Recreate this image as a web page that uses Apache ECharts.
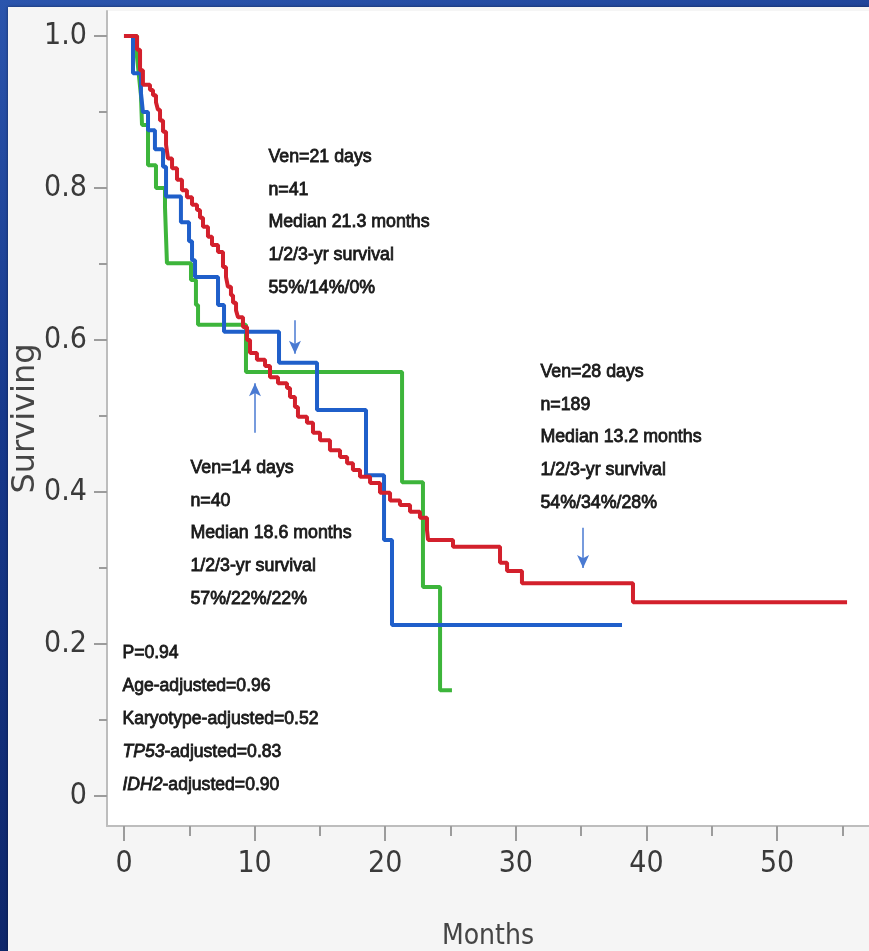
<!DOCTYPE html>
<html><head><meta charset="utf-8">
<script src="https://cdn.jsdelivr.net/npm/echarts@6/dist/echarts.min.js"></script>
<style>
html,body{margin:0;padding:0;width:869px;height:951px;overflow:hidden;background:linear-gradient(165deg,#2b55ad 0%,#17398c 35%,#0b1f5c 100%);}
#panel{position:absolute;left:8px;top:7px;width:861px;height:944px;background:#f5f5f5;box-shadow:0 0 3px rgba(0,0,0,0.45);}
#chart{position:absolute;left:0;top:0;width:869px;height:951px;}
</style></head><body><div id="panel"></div><div id="chart"></div>
<script>
// ---- data ----
const redTimes = [0,1.00,1.23,1.45,1.99,2.22,2.45,2.60,2.76,2.99,3.22,3.37,3.68,4.06,4.44,4.82,5.21,5.59,5.82,6.05,6.43,6.74,7.20,7.58,7.81,7.96,8.19,8.35,8.58,8.73,9.11,9.42,9.65,10.18,10.80,11.18,11.79,12.48,12.71,13.09,13.32,14.01,14.47,15.01,15.77,16.54,17.08,17.53,18.07,18.84,19.60,20.37,21.13,21.90,22.66,23.20,23.28,25.19,28.79,29.33,30.47,38.97];
const redSurv  = [1.0,0.982,0.955,0.936,0.929,0.922,0.913,0.903,0.889,0.874,0.857,0.839,0.826,0.811,0.797,0.788,0.778,0.771,0.761,0.749,0.736,0.725,0.716,0.696,0.683,0.670,0.659,0.649,0.639,0.630,0.617,0.600,0.583,0.574,0.566,0.551,0.543,0.537,0.525,0.512,0.499,0.491,0.478,0.468,0.455,0.446,0.438,0.429,0.420,0.412,0.399,0.389,0.383,0.374,0.366,0.350,0.337,0.328,0.307,0.296,0.280,0.255];
const redEnd = 55.36;

const blueTimes = [0,0.69,1.30,1.45,1.84,2.37,2.99,3.22,4.36,4.98,5.21,5.44,7.20,7.66,11.87,14.78,18.53,19.91,20.52];
const blueSurv  = [1.0,0.951,0.925,0.900,0.876,0.851,0.828,0.789,0.755,0.730,0.705,0.683,0.646,0.611,0.570,0.508,0.422,0.337,0.225];
const blueEnd = 38.13;

const greenTimes = [0,1.00,1.15,1.30,1.38,1.84,2.45,3.14,3.29,5.13,5.51,5.67,9.34,21.29,22.89,24.20];
const greenSurv  = [1.0,0.972,0.947,0.922,0.883,0.830,0.800,0.775,0.701,0.679,0.646,0.620,0.558,0.413,0.275,0.139];
const greenEnd = 25.11;

const xLabelTicks = [0,10,20,30,40,50];
const xMinorTicks = [5,15,25,35,45,55];
const yLabelTicks = [0,0.2,0.4,0.6,0.8,1.0];
const yMinorTicks = [0.1,0.3,0.5,0.7,0.9];

// arrows: [month, fromSurv, toSurv]
const arrowGreen = [13.09, 0.626, 0.582];
const arrowBlue  = [10.03, 0.478, 0.543];
const arrowRed   = [35.15, 0.353, 0.300];

const noteGreen = ['Ven=21 days','n=41','Median 21.3 months','1/2/3-yr survival','55%/14%/0%'];
const noteBlue  = ['Ven=14 days','n=40','Median 18.6 months','1/2/3-yr survival','57%/22%/22%'];
const noteRed   = ['Ven=28 days','n=189','Median 13.2 months','1/2/3-yr survival','54%/34%/28%'];
const notePval  = ['P=0.94','Age-adjusted=0.96','Karyotype-adjusted=0.52','TP53-adjusted=0.83','IDH2-adjusted=0.90'];
const italicGenes = ['TP53','IDH2'];

// ---- build ----
function km(times, surv, end){
  const d = times.map((t,i)=>[t, surv[i]]);
  d.push([end, surv[surv.length-1]]);
  return d;
}
const X_MIN = -1.30, X_MAX = 57.04;
const Y_MIN = -0.0395, Y_MAX = 1.033;
const narrow = "'Liberation Sans Narrow','DejaVu Sans Condensed','Liberation Sans',sans-serif";
const noteFont = "'Liberation Sans',Arial,sans-serif";
const axisCol = '#bdbdbd', tickCol = '#9c9c9c', labCol = '#3a3a3a';

const chart = echarts.init(document.getElementById('chart'), null, {renderer:'canvas'});

function noteText(lines, left, topCenter){
  const lh = 32.8;
  return {type:'text', left:left, top: topCenter - lh/2, silent:true, z:10,
    style:{text: lines.join('\n'), fontFamily: noteFont, fontSize: 17.8, lineHeight: lh,
      fill:'#1a1a1a', stroke:'#1a1a1a', lineWidth:0.8, textVerticalAlign:'top'}};
}
function pText(lines, left, topCenter){
  const lh = 33;
  const txt = lines.map(l=>{
    const g = italicGenes.find(p=>l.startsWith(p));
    if (g) return '{i|'+g+'}{n|'+l.slice(g.length)+'}';
    return '{n|'+l+'}';
  }).join('\n');
  const base = {fontFamily: noteFont, fontSize: 17.6, lineHeight: lh, fill:'#1a1a1a', stroke:'#1a1a1a', lineWidth:0.8};
  return {type:'text', left:left, top: topCenter - lh/2, silent:true, z:10,
    style:{text: txt, rich:{n: Object.assign({}, base), i: Object.assign({fontStyle:'italic'}, base)}}};
}
function arrow(a){
  return [{coord:[a[0],a[1]], symbol:'none'},{coord:[a[0],a[2]], symbol:'arrow', symbolSize:[9,13]}];
}

const option = {
  animation:false,
  backgroundColor:'transparent',
  grid:{left:107, top:11, right:0, bottom:125, show:true, backgroundColor:'#ffffff', borderWidth:0,
        containLabel:false, outerBoundsMode:'none'},
  xAxis:[
    {type:'value', position:'bottom', min:X_MIN, max:X_MAX,
     axisLine:{show:true, onZero:false, lineStyle:{color:axisCol, width:2}},
     axisTick:{show:true, customValues:xLabelTicks, length:15, lineStyle:{color:tickCol, width:2}},
     axisLabel:{customValues:xLabelTicks, margin:23, fontSize:30, fontFamily:narrow, color:labCol},
     splitLine:{show:false},
     name:'Months', nameLocation:'middle', nameGap:97, nameMoveOverlap:false,
     nameTextStyle:{fontSize:28, fontFamily:narrow, color:'#454545'}},
    {type:'value', position:'bottom', min:X_MIN, max:X_MAX,
     axisLine:{show:false, onZero:false},
     axisTick:{show:true, customValues:xMinorTicks, length:10, lineStyle:{color:tickCol, width:2}},
     axisLabel:{show:false}, splitLine:{show:false}}
  ],
  yAxis:[
    {type:'value', position:'left', min:Y_MIN, max:Y_MAX,
     axisLine:{show:true, onZero:false, lineStyle:{color:axisCol, width:2}},
     axisTick:{show:true, customValues:yLabelTicks, length:13, lineStyle:{color:tickCol, width:2}},
     axisLabel:{customValues:yLabelTicks, margin:20, fontSize:30, fontFamily:narrow, color:labCol,
       formatter:v=> Math.abs(v)<1e-9 ? '0' : v.toFixed(1)},
     splitLine:{show:false},
     name:'Surviving', nameLocation:'middle', nameGap:65, nameMoveOverlap:false,
     nameTextStyle:{fontSize:32, fontFamily:"'DejaVu Sans',sans-serif", color:'#454545'}},
    {type:'value', position:'left', min:Y_MIN, max:Y_MAX,
     axisLine:{show:false, onZero:false},
     axisTick:{show:true, customValues:yMinorTicks, length:8, lineStyle:{color:tickCol, width:2}},
     axisLabel:{show:false}, splitLine:{show:false}}
  ],
  series:[
    {name:'Ven=21 days', type:'line', step:'end', data:km(greenTimes, greenSurv, greenEnd),
     showSymbol:false, lineStyle:{color:'#3db53b', width:4}, itemStyle:{color:'#3db53b'}, z:2, silent:true},
    {name:'Ven=14 days', type:'line', step:'end', data:km(blueTimes, blueSurv, blueEnd),
     showSymbol:false, lineStyle:{color:'#1f5fca', width:4}, itemStyle:{color:'#1f5fca'}, z:3, silent:true},
    {name:'Ven=28 days', type:'line', step:'end', data:km(redTimes, redSurv, redEnd),
     showSymbol:false, lineStyle:{color:'#d3202c', width:4}, itemStyle:{color:'#d3202c'}, z:4, silent:true,
     markLine:{silent:true, animation:false, symbol:['none','arrow'],
       lineStyle:{color:'#4a7ad2', width:1.5, type:'solid'}, itemStyle:{color:'#3a6cd0'},
       label:{show:false}, emphasis:{disabled:true},
       data:[arrow(arrowGreen), arrow(arrowBlue), arrow(arrowRed)]}}
  ],
  graphic:[
    noteText(noteGreen, 268, 157),
    noteText(noteRed, 540, 372),
    noteText(noteBlue, 190, 468),
    pText(notePval, 122, 660)
  ]
};
chart.setOption(option);
</script></body></html>
